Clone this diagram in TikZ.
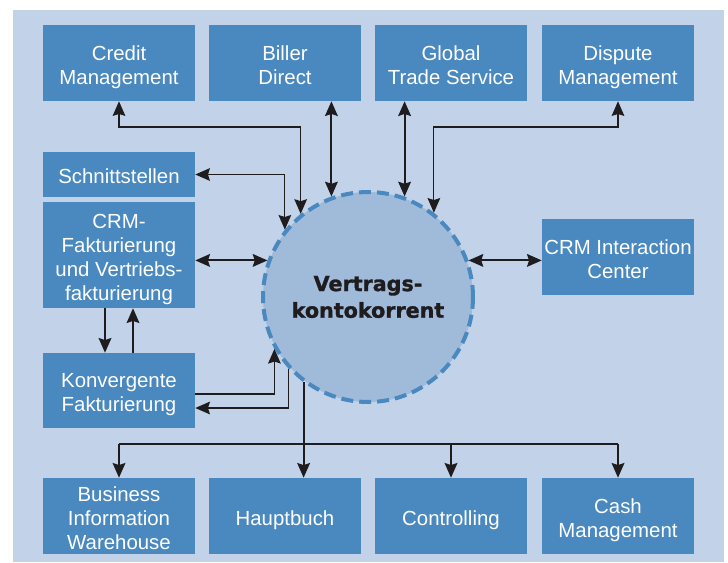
\documentclass[tikz,border=0pt]{standalone}
\usepackage{fontspec}
\setmainfont{Liberation Sans}
\newfontfamily\heavyfont{DejaVu Sans Bold}[FakeBold=1.4]
\usetikzlibrary{arrows.meta}
\definecolor{boxblue}{RGB}{74,137,191}
\definecolor{bgblue}{RGB}{194,211,233}
\definecolor{circblue}{RGB}{160,186,217}
\definecolor{pfeilgrau}{RGB}{30,28,30}
% struts above the first and below the last line of a box text
\newcommand\boxtxt[1]{\rule{0pt}{17pt}#1\rule[-3.5pt]{0pt}{3.5pt}}
\tikzset{
  pfeil/.tip={Stealth[length=11pt,width=9.5pt,inset=1.5pt]},
  box/.style={fill=boxblue,text=white,align=center,minimum width=114pt,inner sep=0pt,
    font=\fontsize{15.3}{18}\selectfont},
  thinline/.style={draw=pfeilgrau,line width=0.8pt},
  midline/.style={draw=pfeilgrau,line width=1.1pt},
  thickline/.style={draw=pfeilgrau,line width=1.6pt},
}
\begin{document}
\begin{tikzpicture}[x=0.75pt,y=0.75pt,yscale=-1]
\useasboundingbox (0,0) rectangle (728,562);
%Shape: Background
\fill[bgblue] (13,10) rectangle (724,562);

%Shape: Boxes top row
\node[box,minimum height=57pt] (credit) at (119,63) {\boxtxt{Credit\\Management}};
\node[box,minimum height=57pt] (biller) at (285,63) {\boxtxt{Biller\\Direct}};
\node[box,minimum height=57pt] (gts) at (451,63) {\boxtxt{Global\\Trade Service}};
\node[box,minimum height=57pt] (dispute) at (618,63) {\boxtxt{Dispute\\Management}};
%Shape: Boxes left column
\node[box,minimum height=33.75pt] (schnitt) at (119,174.5) {\boxtxt{Schnittstellen}};
\node[box,minimum height=79.5pt] (crmfakt) at (119,255) {\boxtxt{CRM-\\Fakturierung\\und Vertriebs-\\fakturierung}};
\node[box,minimum height=56.25pt] (konv) at (119,390.5) {\boxtxt{Konvergente\\Fakturierung}};
\node[box,minimum height=57pt] (crmic) at (618,257) {\boxtxt{CRM Interaction\\Center}};
%Shape: Boxes bottom row
\node[box,minimum height=57pt] (biw) at (119,516) {\boxtxt{Business\\Information\\Warehouse}};
\node[box,minimum height=57pt] (haupt) at (285,516) {\boxtxt{Hauptbuch}};
\node[box,minimum height=57pt] (contr) at (451,516) {\boxtxt{Controlling}};
\node[box,minimum height=57pt] (cash) at (618,516) {\boxtxt{Cash\\Management}};

%Shape: Circle
\node[circle,minimum size=157.5pt,fill=circblue,draw=boxblue,line width=3pt,
  dash pattern=on 9pt off 4.5pt,align=center,text=pfeilgrau,
  font=\heavyfont\fontsize{15.5}{20}\selectfont] (vk) at (368,297) {Vertrags-\\kontokorrent};

% levels of the bends
\coordinate (k1) at (0,127);
\coordinate (k2) at (0,394);
\coordinate (k3) at (0,408);
\coordinate (bus) at (0,444);

%Straight Lines
\draw[thinline,pfeil-pfeil] (credit.south) |- (k1 -| vk.129) -- (vk.129);
\draw[thickline,pfeil-pfeil] (biller.south -| vk.110) -- (vk.110);
\draw[thickline,pfeil-pfeil] (gts.south -| vk.70) -- (vk.70);
\draw[thinline,pfeil-pfeil] (dispute.south) |- (k1 -| vk.52) -- (vk.52);
\draw[thinline,pfeil-pfeil] (schnitt.east) -| (vk.141);
\draw[thickline,pfeil-pfeil] (crmfakt.east |- vk.160) -- (vk.160);
\draw[thickline,pfeil-pfeil] (vk.20) -- (vk.20 -| crmic.west);
\draw[thickline,-pfeil] ([xshift=-10.5pt]crmfakt.south) -- ([xshift=-10.5pt]konv.north);
\draw[thickline,-pfeil] ([xshift=10.5pt]konv.north) -- ([xshift=10.5pt]crmfakt.south);
\draw[midline,-pfeil] (konv.east |- k2) -| (vk.209);
\draw[midline,-pfeil] (vk.222) |- (konv.east |- k3);
\draw[thickline,-pfeil] (vk.233) -- (vk.233 |- haupt.north);
\draw[thickline] (biw.north |- bus) -- (cash.north |- bus);
\foreach \n in {biw,contr,cash}
  \draw[thickline,-pfeil] (\n.north |- bus) -- (\n.north);

\end{tikzpicture}
\end{document}
